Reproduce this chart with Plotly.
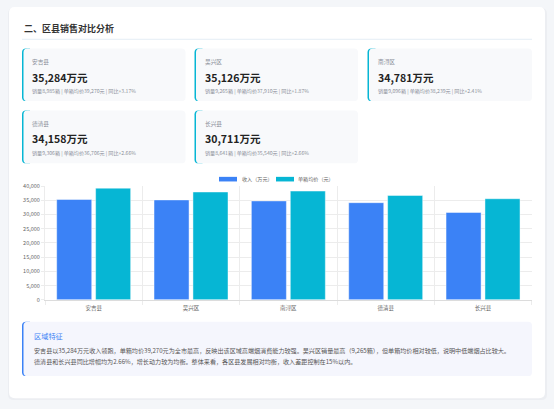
import plotly.graph_objects as go

# district sales data
districts = ["安吉县", "吴兴区", "南浔区", "德清县", "长兴县"]
revenue = [35284, 35126, 34781, 34158, 30711]        # 万元
volume = [8985, 9265, 9096, 9306, 8641]              # 箱
avg_price = [39270, 37910, 38239, 36706, 35540]      # 元/箱
yoy = [3.17, 1.87, 2.41, 2.66, 2.66]                 # %

y_ticks = [0, 5000, 10000, 15000, 20000, 25000, 30000, 35000, 40000]

summary_title = "区域特征"
summary_lines = [
    "安吉县以35,284万元收入领跑，单箱均价39,270元为全市最高，反映出该区域高端烟消费能力较强。吴兴区销量最高（9,265箱），但单箱均价相对较低，说明中低端烟占比较大。",
    "德清县和长兴县同比增幅均为2.66%，增长动力较为均衡。整体来看，各区县发展相对均衡，收入差距控制在15%以内。",
]

W, H = 554, 409
FONT = "Noto Sans CJK SC, Noto Sans, sans-serif"
BLUE = "#3b82f6"
CYAN = "#06b6d4"


def X(px):
    return px / W


def Y(py):
    return 1 - py / H


def rrect(x0, y0, x1, y1, r, fill, rr=None):
    # rounded rectangle in page pixels -> paper path (rr = right corner radius)
    rr = r if rr is None else rr
    p = (f"M {X(x0 + r)},{Y(y0)} L {X(x1 - rr)},{Y(y0)} Q {X(x1)},{Y(y0)} {X(x1)},{Y(y0 + rr)} "
         f"L {X(x1)},{Y(y1 - rr)} Q {X(x1)},{Y(y1)} {X(x1 - rr)},{Y(y1)} "
         f"L {X(x0 + r)},{Y(y1)} Q {X(x0)},{Y(y1)} {X(x0)},{Y(y1 - r)} "
         f"L {X(x0)},{Y(y0 + r)} Q {X(x0)},{Y(y0)} {X(x0 + r)},{Y(y0)} Z")
    return dict(type="path", path=p, xref="paper", yref="paper", fillcolor=fill,
                line=dict(width=0), layer="below")


def text(px, py, s, size, color, bold=False, anchor="left"):
    return dict(x=X(px), y=Y(py), xref="paper", yref="paper", text=f"<b>{s}</b>" if bold else s,
                showarrow=False, xanchor=anchor, yanchor="middle",
                font=dict(family=FONT, size=size, color=color))


fig = go.Figure()
fig.add_trace(go.Bar(x=districts, y=revenue, name="收入（万元）",
                     marker=dict(color=BLUE, line=dict(color="rgba(255,255,255,0.45)", width=1))))
fig.add_trace(go.Bar(x=districts, y=avg_price, name="单箱均价（元）",
                     marker=dict(color=CYAN, line=dict(color="rgba(255,255,255,0.45)", width=1))))

shapes = []
annots = []

# page card with soft shadow
shapes.append(rrect(8, 4, 547, 404, 6, "#eceef2"))
shapes.append(rrect(9, 3, 545, 402, 6, "#ffffff"))

annots.append(text(22, 24.5, "二、区县销售对比分析", 9, "#333333", bold=True))
shapes.append(dict(type="line", xref="paper", yref="paper", x0=X(22), x1=X(532), y0=Y(36), y1=Y(36),
                   line=dict(color="#e4edf5", width=1), layer="below"))

# KPI cards, left accent strip only
cols = [(22, 185.5), (194.5, 358), (367.5, 532)]
rows = [(45.5, 99), (108.5, 162.5)]
for i, name in enumerate(districts):
    cx0, cx1 = cols[i % 3]
    cy0, cy1 = rows[i // 3]
    shapes.append(rrect(cx0, cy0, cx0 + 8, cy1, 4, CYAN, rr=0))
    shapes.append(rrect(cx0 + 1.5, cy0, cx1, cy1, 4, "#f8f9fb"))
    annots.append(text(cx0 + 8, cy0 + 13, name, 5.7, "#8a8f99"))
    annots.append(text(cx0 + 8, cy0 + 29, f"{revenue[i]:,}万元", 10.5, "#222222", bold=True))
    annots.append(text(cx0 + 8, cy0 + 43.5,
                       f"销量{volume[i]:,}箱 | 单箱均价{avg_price[i]:,}元 | 同比+{yoy[i]:.2f}%",
                       5.1, "#8a8f99"))

# chart legend (chart.js style boxes)
legend_items = [(219, 237, 239.5, "收入（万元）", BLUE), (276, 294, 296.5, "单箱均价（元）", CYAN)]
for sx0, sx1, tx, lab, col in legend_items:
    shapes.append(dict(type="rect", xref="paper", yref="paper", x0=X(sx0), x1=X(sx1),
                       y0=Y(176.3), y1=Y(181), fillcolor=col, line=dict(width=0)))
    annots.append(text(tx, 178.6, lab, 5.1, "#666666"))

# summary box
shapes.append(rrect(22, 324, 30, 379.5, 4, BLUE, rr=0))
shapes.append(rrect(23.5, 324, 532, 379.5, 4, "#f5f6fd"))
annots.append(text(32.3, 338.7, summary_title, 7.2, BLUE))
annots.append(text(32.3, 353.7, summary_lines[0], 6.1, "#555555"))
annots.append(text(32.3, 364.3, summary_lines[1], 6.1, "#555555"))

fig.update_layout(
    width=W, height=H,
    margin=dict(l=0, r=0, t=0, b=0),
    paper_bgcolor="#f4f6f9",
    plot_bgcolor="rgba(0,0,0,0)",
    showlegend=False,
    barmode="group",
    bargap=0.2,
    bargroupgap=0.1,
    shapes=shapes,
    annotations=annots,
    font=dict(family=FONT, size=5.5, color="#666666"),
    xaxis=dict(domain=[X(45), X(531.7)], tickson="boundaries", showgrid=True, gridcolor="#ececec",
               gridwidth=1, ticks="outside", ticklen=4, tickcolor="#ececec", showline=True,
               linecolor="#dcdcdc", linewidth=1, ticklabelstandoff=3,
               tickfont=dict(size=5.5, color="#666666")),
    yaxis=dict(domain=[Y(301.7), Y(185.7)], range=[0, 40000], tickvals=y_ticks, tickformat=",",
               showgrid=True, gridcolor="#ececec", ticks="outside", ticklen=3, tickcolor="#ececec",
               showline=True, linecolor="#ececec", zeroline=False,
               tickfont=dict(size=5.5, color="#666666")),
)

fig.write_html("out.html", config={"displayModeBar": False},
               post_script="document.body.style.margin='0';")
